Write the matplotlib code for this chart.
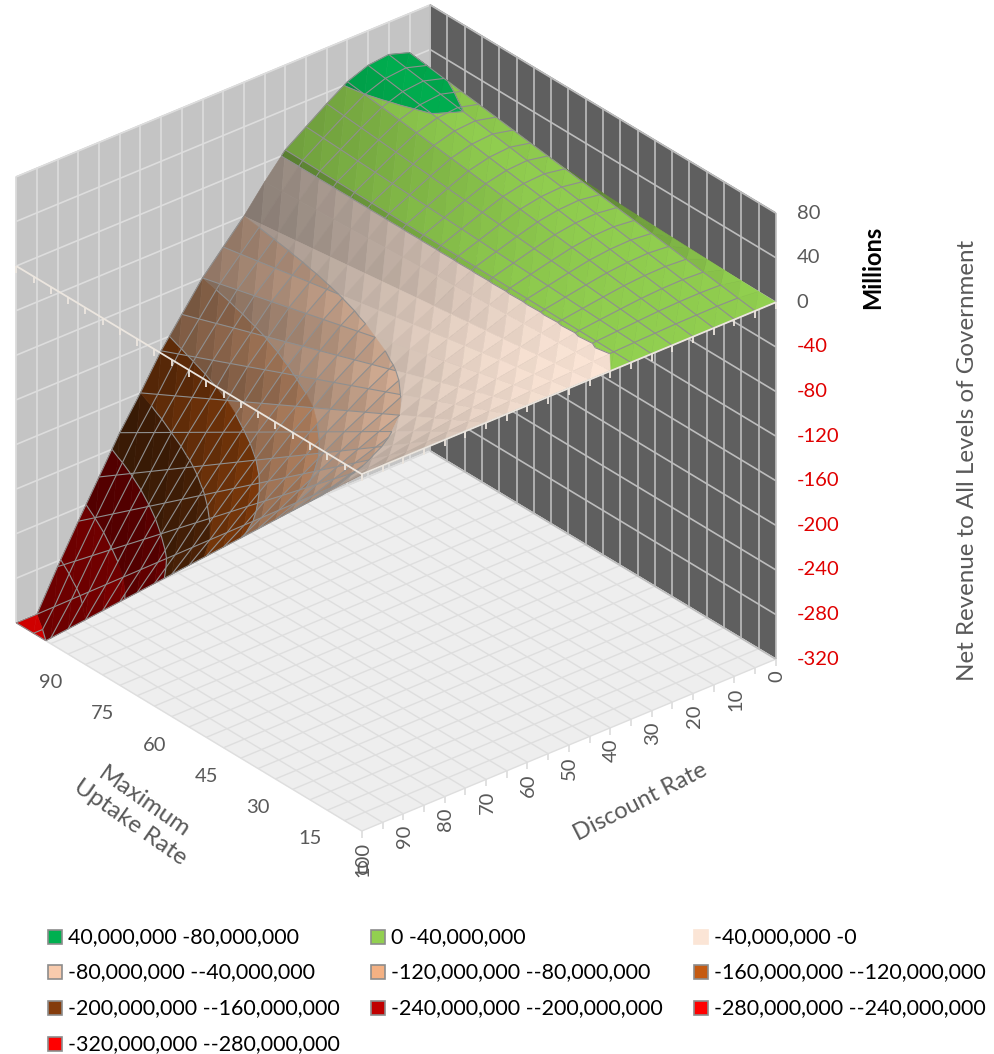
import numpy as np
import matplotlib
matplotlib.use('Agg')
import matplotlib.pyplot as plt
from matplotlib.colors import to_rgb
from matplotlib.patches import Rectangle
from mpl_toolkits.mplot3d import proj3d
from mpl_toolkits.mplot3d.art3d import Line3DCollection, Poly3DCollection

plt.rcParams['font.family'] = ['Lato', 'DejaVu Sans']

W, H = 994, 1054

uptake = [0, 5, 10, 15, 20, 25, 30, 35, 40, 45, 50, 55, 60, 65, 70, 75, 80, 85, 90, 95, 100]
discount = [0, 5, 10, 15, 20, 25, 30, 35, 40, 45, 50, 55, 60, 65, 70, 75, 80, 85, 90, 95, 100]

# net revenue in millions, one row per discount rate, columns follow uptake
revenue = [
    [0, .3, .6, 1, 1.4, 1.8, 2.2, 2.7, 3.2, 3.8, 4.5, 5.3, 6.2, 7.2, 8.2, 9.2, 10.2, 11.3, 12.4, 13.6, 15],
    [0, 2.2, 4.5, 6.8, 9, 11.2, 13.5, 15.8, 18, 20.2, 22.5, 24.8, 27, 29.2, 31.5, 33.8, 36, 38.2, 40.5, 42.8, 45],
    [0, 2.6, 5.1, 7.7, 10.2, 12.8, 15.3, 17.8, 20.4, 23, 25.5, 28, 30.6, 33.2, 35.7, 38.2, 40.8, 43.4, 45.9, 48.4, 51],
    [0, 2.4, 4.9, 7.4, 9.8, 12.2, 14.7, 17.2, 19.6, 22, 24.5, 27, 29.4, 31.8, 34.3, 36.8, 39.2, 41.6, 44.1, 46.6, 49],
    [0, 2.1, 4.2, 6.3, 8.4, 10.5, 12.6, 14.7, 16.8, 18.9, 21, 23.1, 25.2, 27.3, 29.4, 31.5, 33.6, 35.7, 37.8, 39.9, 42],
    [0, 1.5, 3, 4.5, 6, 7.5, 9, 10.5, 12, 13.5, 15, 16.5, 18, 19.5, 21, 22.5, 24, 25.5, 27, 28.5, 30],
    [0, .9, 1.7, 2.6, 3.4, 4.2, 5.1, 6, 6.8, 7.6, 8.5, 9.4, 10.2, 11, 11.9, 12.8, 13.6, 14.4, 15.3, 16.2, 17],
    [0, .2, .4, .6, .8, 1, 1.2, 1.4, 1.6, 1.8, 2, 2.2, 2.4, 2.6, 2.8, 3, 3.2, 3.4, 3.6, 3.8, 4],
    [0, -.85, -1.7, -2.6, -3.4, -4.2, -5.1, -6, -6.8, -7.6, -8.5, -9.4, -10.2, -11, -11.9, -12.8, -13.6, -14.4, -15.3, -16.2, -17],
    [0, -2, -4, -6, -8, -10, -12, -14, -16, -18, -20, -22, -24, -26, -28, -30, -32, -34, -36, -38, -40],
    [0, -3, -6, -9, -12, -15, -18, -21, -24, -27, -30, -33, -36, -39, -42, -45, -48, -51, -54, -57, -60],
    [0, -4, -8, -12, -16, -20, -24, -28, -32, -36, -40, -44, -48, -52, -56, -60, -64, -68, -72, -76, -80],
    [0, -5.2, -10.5, -15.8, -21, -26.2, -31.5, -36.8, -42, -47.2, -52.5, -57.8, -63, -68.2, -73.5, -78.8, -84, -89.2, -94.5, -99.8, -105],
    [0, -6.5, -13, -19.5, -26, -32.5, -39, -45.5, -52, -58.5, -65, -71.5, -78, -84.5, -91, -97.5, -104, -110.5, -117, -123.5, -130],
    [0, -8, -16, -24, -32, -40, -48, -56, -64, -72, -80, -88, -96, -104, -112, -120, -128, -136, -144, -152, -160],
    [0, -9.4, -18.8, -28.2, -37.6, -47, -56.4, -65.8, -75.2, -84.6, -94, -103.4, -112.8, -122.2, -131.6, -141, -150.4, -159.8, -169.2, -178.6, -188],
    [0, -11, -22, -33, -44, -55, -66, -77, -88, -99, -110, -121, -132, -143, -154, -165, -176, -187, -198, -209, -220],
    [0, -12.6, -25.2, -37.8, -50.4, -63, -75.6, -88.2, -100.8, -113.4, -126, -138.6, -151.2, -163.8, -176.4, -189, -201.6, -214.2, -226.8, -239.4, -252],
    [0, -14.2, -28.5, -42.8, -57, -71.2, -85.5, -99.8, -114, -128.2, -142.5, -156.8, -171, -185.2, -199.5, -213.8, -228, -242.2, -256.5, -270.8, -285],
    [0, -16, -32, -48, -64, -80, -96, -112, -128, -144, -160, -176, -192, -208, -224, -240, -256, -272, -288, -304, -320],
    [0, -17.5, -35, -52.5, -70, -87.5, -105, -122.5, -140, -157.5, -175, -192.5, -210, -227.5, -245, -262.5, -280, -297.5, -315, -332.5, -350],
]

band_edges = [80, 40, 0, -40, -80, -120, -160, -200, -240, -280, -320]
band_colors = ['#00b050', '#92d050', '#fbe5d6', '#f8cbad', '#f4b183',
               '#c55a11', '#843c0c', '#c00000', '#ff0000', '#ff0000']
floor_color = '#cf0000'

legend_labels = ['40,000,000 -80,000,000', '0 -40,000,000', '-40,000,000 -0',
                 '-80,000,000 --40,000,000', '-120,000,000 --80,000,000', '-160,000,000 --120,000,000',
                 '-200,000,000 --160,000,000', '-240,000,000 --200,000,000', '-280,000,000 --240,000,000',
                 '-320,000,000 --280,000,000']

z_ticks = [80, 40, 0, -40, -80, -120, -160, -200, -240, -280, -320]
uptake_ticks = [0, 15, 30, 45, 60, 75, 90]
discount_ticks = [0, 10, 20, 30, 40, 50, 60, 70, 80, 90, 100]

ZMIN, ZMAX = -320, 80
GRAY = '#595959'


def px(x, y):
    return x / W, 1 - y / H


def clip(poly, level, above):
    # Sutherland-Hodgman against a horizontal plane
    out = []
    for i in range(len(poly)):
        a, b = poly[i], poly[(i + 1) % len(poly)]
        a_in = a[2] >= level if above else a[2] <= level
        b_in = b[2] >= level if above else b[2] <= level
        if a_in:
            out.append(a)
        if a_in != b_in:
            t = (level - a[2]) / (b[2] - a[2])
            out.append((a[0] + t * (b[0] - a[0]), a[1] + t * (b[1] - a[1]), level))
    return out


def facet_shade(tri):
    # brightness falls off with the facet slope, in box-scaled coordinates
    p = np.array(tri) * np.array([5.4, 5.37, 1.285])
    n = np.cross(p[1] - p[0], p[2] - p[0])
    return max(0.44, (abs(n[2]) / np.linalg.norm(n)) ** 1.5)


def split_by_level(a, b):
    ts = [0.0, 1.0]
    for level in band_edges:
        if (a[2] - level) * (b[2] - level) < 0:
            ts.append((level - a[2]) / (b[2] - a[2]))
    ts.sort()
    a, b = np.array(a), np.array(b)
    return [(a + s * (b - a), a + e * (b - a)) for s, e in zip(ts[:-1], ts[1:])]


def mesh_segments(a, b, segs):
    for s, e in split_by_level(a, b):
        mid = (s[2] + e[2]) / 2
        if -40 < mid < 0:
            continue
        segs.append([(s[0], s[1], max(s[2], ZMIN)), (e[0], e[1], max(e[2], ZMIN))])


rev = np.array(revenue, dtype=float)
polys, colors, lines = [], [], []

for j in range(len(discount) - 1):
    for i in range(len(uptake) - 1):
        c00 = (uptake[i], discount[j], rev[j, i])
        c10 = (uptake[i + 1], discount[j], rev[j, i + 1])
        c01 = (uptake[i], discount[j + 1], rev[j + 1, i])
        c11 = (uptake[i + 1], discount[j + 1], rev[j + 1, i + 1])
        for k, tri in enumerate([[c00, c10, c01], [c10, c11, c01]]):
            shade = facet_shade(tri)
            for b in range(len(band_colors) + 1):
                piece = list(tri)
                if b < len(band_colors):
                    piece = clip(piece, band_edges[b + 1], True)
                    if piece:
                        piece = clip(piece, band_edges[b], False)
                    if len(piece) < 3:
                        continue
                    tint = 1.0 if k == 0 else (0.99 if b < 2 else 0.97)
                    rgb = np.array(to_rgb(band_colors[b])) * shade * tint
                else:
                    # whatever falls under the axis minimum lies flat on the floor
                    piece = clip(piece, ZMIN, False)
                    if len(piece) < 3:
                        continue
                    piece = [(p[0], p[1], ZMIN) for p in piece]
                    rgb = np.array(to_rgb(floor_color))
                polys.append(piece)
                colors.append(tuple(np.clip(rgb, 0, 1)))

            # band boundaries
            if discount[j] >= 5:
                for level in band_edges[1:]:
                    cross = []
                    for m in range(3):
                        a, b2 = tri[m], tri[(m + 1) % 3]
                        if (a[2] - level) * (b2[2] - level) < 0:
                            t = (level - a[2]) / (b2[2] - a[2])
                            cross.append((a[0] + t * (b2[0] - a[0]), a[1] + t * (b2[1] - a[1]), level))
                    if len(cross) == 2:
                        lines.append(cross)

# mesh along both data directions, the strip behind the ridge stays plain
for j in range(1, len(discount)):
    for i in range(len(uptake) - 1):
        mesh_segments((uptake[i], discount[j], rev[j, i]), (uptake[i + 1], discount[j], rev[j, i + 1]), lines)
for i in range(len(uptake)):
    for j in range(1, len(discount) - 1):
        mesh_segments((uptake[i], discount[j], rev[j, i]), (uptake[i], discount[j + 1], rev[j + 1, i]), lines)

fig = plt.figure(figsize=(W / 100, H / 100), dpi=100)
size = 893.7
ax = fig.add_axes([-62.9 / W, 177.1 / H, size / W, size / H], projection='3d', proj_type='ortho')
ax.set_box_aspect((540, 537, 514))
ax.view_init(elev=30, azim=140.3)
ax.set_xlim(0, 100)
ax.set_ylim(0, 100)
ax.set_zlim(ZMIN, ZMAX)
ax.computed_zorder = False
ax.patch.set_alpha(0)
ax.grid(False)
ax.set_xticks([])
ax.set_yticks([])
ax.set_zticks([])

for axis, pane in ((ax.xaxis, '#c4c4c4'), (ax.yaxis, '#5f5f5f'), (ax.zaxis, '#eeeeee')):
    axis.set_pane_color(to_rgb(pane))
    axis.pane.set_edgecolor(pane)
    axis.line.set_color((0, 0, 0, 0))

# wall and floor grids
left_wall, right_wall, floor = [], [], []
for d in discount:
    left_wall.append([(100, d, ZMIN), (100, d, ZMAX)])
    floor.append([(0, d, ZMIN), (100, d, ZMIN)])
for u in uptake:
    right_wall.append([(u, 0, ZMIN), (u, 0, ZMAX)])
    floor.append([(u, 0, ZMIN), (u, 100, ZMIN)])
for z in z_ticks:
    left_wall.append([(100, 0, z), (100, 100, z)])
    right_wall.append([(0, 0, z), (100, 0, z)])
ax.add_collection3d(Line3DCollection(floor, colors='#dedede', linewidths=1.0, zorder=1))
ax.add_collection3d(Line3DCollection(left_wall, colors='#dddddd', linewidths=1.2, zorder=1))
ax.add_collection3d(Line3DCollection(right_wall, colors='#bdbdbd', linewidths=1.2, zorder=1))

# floor ticks under the front edges
floor_ticks = [[(0, d, ZMIN), (0, d, ZMIN - 6)] for d in discount]
ax.add_collection3d(Line3DCollection(floor_ticks, colors='#dcdcdc', linewidths=1.2, zorder=1))

surface = Poly3DCollection(polys, facecolors=colors, edgecolors=colors, linewidths=0.4, zorder=3)
ax.add_collection3d(surface)
ax.add_collection3d(Line3DCollection(lines, colors='#8f8f8f', linewidths=0.8, zorder=4))

# horizontal axes cross at zero and carry their ticks across the surface
zero_axes = [[(0, 0, 0), (0, 100, 0)], [(0, 100, 0), (100, 100, 0)]]
zero_axes += [[(0, d, 0), (0, d, -6)] for d in discount]
zero_axes += [[(u, 100, 0), (u, 100, -6)] for u in uptake]
ax.add_collection3d(Line3DCollection(zero_axes, colors='#ece6df', linewidths=1.3, zorder=5))

M = ax.get_proj()


def tick_label(x, y, z, dx, dy, text, **kw):
    xp, yp, _ = proj3d.proj_transform(x, y, z, M)
    ax.annotate(text, (xp, yp), xytext=(dx, dy), textcoords='offset pixels',
                annotation_clip=False, **kw)


for z in z_ticks:
    tick_label(0, 0, z, 21, 0, str(z), ha='left', va='center', fontsize=14.5,
               color='#e00000' if z < 0 else GRAY)
for u in uptake_ticks:
    tick_label(u, 100, ZMIN, 0, -39, str(u), ha='center', va='center', fontsize=14.5, color=GRAY)
for d in discount_ticks:
    tick_label(0, d, ZMIN, 1, -11, str(d), ha='center', va='top', rotation=90, fontsize=14.5, color=GRAY)

fig.text(*px(640, 802), 'Discount Rate', rotation=27, ha='center', va='center', fontsize=17, color=GRAY)
fig.text(*px(137, 812), 'Maximum\nUptake Rate', rotation=-35, ha='center', va='center', fontsize=17.5,
         color=GRAY, linespacing=1.25, rotation_mode='anchor')
fig.text(*px(873, 267), 'Millions', rotation=90, ha='center', va='center', fontsize=17,
         fontweight='bold', color='black')
fig.text(*px(967, 460), 'Net Revenue to All Levels of Government', rotation=90, ha='center', va='center',
         fontsize=17.4, color=GRAY)

# legend filled row by row
col_x = [48, 371, 694]
row_y = [937, 972, 1008, 1044]
for n, (label, color) in enumerate(zip(legend_labels, band_colors)):
    x, y = col_x[n % 3], row_y[n // 3]
    edge = color if n == 2 else '#8c8c8c'
    fig.add_artist(Rectangle(px(x, y + 7), 14 / W, 14 / H, transform=fig.transFigure,
                             facecolor=color, edgecolor=edge, linewidth=1.2))
    fig.text(*px(x + 20, y), label, ha='left', va='center', fontsize=15.4, color='black')

fig.savefig('out.png', dpi=100)
plt.close(fig)
